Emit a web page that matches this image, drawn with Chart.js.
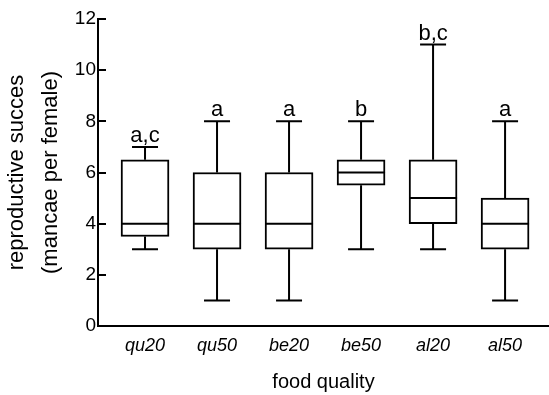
<!DOCTYPE html>
<html>
<head>
<meta charset="utf-8">
<script src="https://cdn.jsdelivr.net/npm/chart.js@4.4.0/dist/chart.umd.min.js"></script>
<style>
  html, body { margin: 0; padding: 0; background: #fff; }
  canvas { display: block; }
</style>
</head>
<body>
<canvas id="chart" width="549" height="395"></canvas>
<script>
// =====================
// DATA
// =====================
const categories = ["qu20", "qu50", "be20", "be50", "al20", "al50"];
const minValues    = [3, 1, 1, 3, 3, 1];
const q1Values     = [3.5, 3, 3, 5.5, 4, 3];
const medianValues = [4, 4, 4, 6, 5, 4];
const q3Values     = [6.5, 6, 6, 6.5, 6.5, 5];
const maxValues    = [7, 8, 8, 8, 11, 8];
const groupLetters = ["a,c", "a", "a", "b", "b,c", "a"];
const yTicks = [0, 2, 4, 6, 8, 10, 12];

const NARROW = "'Liberation Sans Narrow', 'Arial Narrow', 'Liberation Sans', Arial, sans-serif";
const SANS = "'Liberation Sans', Arial, sans-serif";

// =====================
// PLUGINS
// =====================
// inward ticks on the y axis
const inwardTicks = {
  id: "inwardTicks",
  afterDraw(chart) {
    const { ctx, scales: { y } } = chart;
    ctx.save();
    ctx.strokeStyle = "#000";
    ctx.lineWidth = 2;
    y.ticks.forEach(t => {
      const py = Math.round(y.getPixelForValue(t.value));
      ctx.beginPath();
      ctx.moveTo(y.right, py);
      ctx.lineTo(y.right + 8, py);
      ctx.stroke();
    });
    ctx.restore();
  }
};

// whiskers, medians and letters
const boxExtras = {
  id: "boxExtras",
  afterDatasetsDraw(chart) {
    const { ctx, scales: { x, y } } = chart;
    const meta = chart.getDatasetMeta(0);
    ctx.save();
    ctx.strokeStyle = "#000";
    meta.data.forEach((bar, i) => {
      const cx = bar.x;
      const half = bar.width / 2;
      const capHalf = 13;
      const yMin = y.getPixelForValue(minValues[i]);
      const yQ1 = y.getPixelForValue(q1Values[i]);
      const yMed = y.getPixelForValue(medianValues[i]);
      const yQ3 = y.getPixelForValue(q3Values[i]);
      const yMax = y.getPixelForValue(maxValues[i]);

      ctx.lineWidth = 2;
      ctx.beginPath();
      ctx.moveTo(cx - half, yMed);
      ctx.lineTo(cx + half, yMed);
      ctx.stroke();

      ctx.beginPath();
      ctx.moveTo(cx, yQ3); ctx.lineTo(cx, yMax);
      ctx.moveTo(cx, yQ1); ctx.lineTo(cx, yMin);
      ctx.moveTo(cx - capHalf, yMax); ctx.lineTo(cx + capHalf, yMax);
      ctx.moveTo(cx - capHalf, yMin); ctx.lineTo(cx + capHalf, yMin);
      ctx.stroke();

      ctx.fillStyle = "#000";
      ctx.font = "22px " + SANS;
      ctx.textAlign = "center";
      ctx.textBaseline = "alphabetic";
      ctx.fillText(groupLetters[i], cx, yMax - 5);
    });
    ctx.restore();
  }
};

// =====================
// CHART
// =====================
const boxData = categories.map((c, i) => ({ x: i, y: [q1Values[i], q3Values[i]] }));

new Chart(document.getElementById("chart"), {
  type: "bar",
  data: {
    datasets: [{
      data: boxData,
      backgroundColor: "#fff",
      borderColor: "#000",
      borderWidth: 2,
      borderSkipped: false,
      barThickness: 48
    }]
  },
  options: {
    responsive: false,
    animation: false,
    devicePixelRatio: 1,
    layout: { padding: { top: 19, right: 0, left: 0, bottom: 0 } },
    plugins: { legend: { display: false }, tooltip: { enabled: false } },
    scales: {
      x: {
        type: "linear",
        offset: false,
        min: -0.653,
        max: 5.61,
        afterBuildTicks: s => { s.ticks = categories.map((c, i) => ({ value: i })); },
        afterFit: s => { s.height = 69; },
        grid: { display: false, drawTicks: false },
        border: { color: "#000", width: 2 },
        ticks: {
          padding: 9,
          color: "#000",
          font: { family: NARROW, size: 18, style: "italic" },
          callback: v => categories[v] ?? ""
        },
        title: {
          display: true,
          text: "food quality",
          color: "#000",
          font: { family: SANS, size: 20 },
          padding: { top: 0, bottom: 1 }
        }
      },
      y: {
        min: 0,
        max: 12,
        afterBuildTicks: s => { s.ticks = yTicks.map(v => ({ value: v })); },
        afterFit: s => { s.width = 98; },
        grid: { display: false, drawTicks: false },
        border: { color: "#000", width: 2 },
        ticks: {
          padding: 2,
          color: "#000",
          font: { family: NARROW, size: 19 }
        },
        title: {
          display: true,
          text: ["reproductive succes", "(mancae per female)"],
          color: "#000",
          font: { family: SANS, size: 22, lineHeight: 1.55 },
          padding: { top: 0, bottom: 0 }
        }
      }
    }
  },
  plugins: [inwardTicks, boxExtras]
});
</script>
</body>
</html>
